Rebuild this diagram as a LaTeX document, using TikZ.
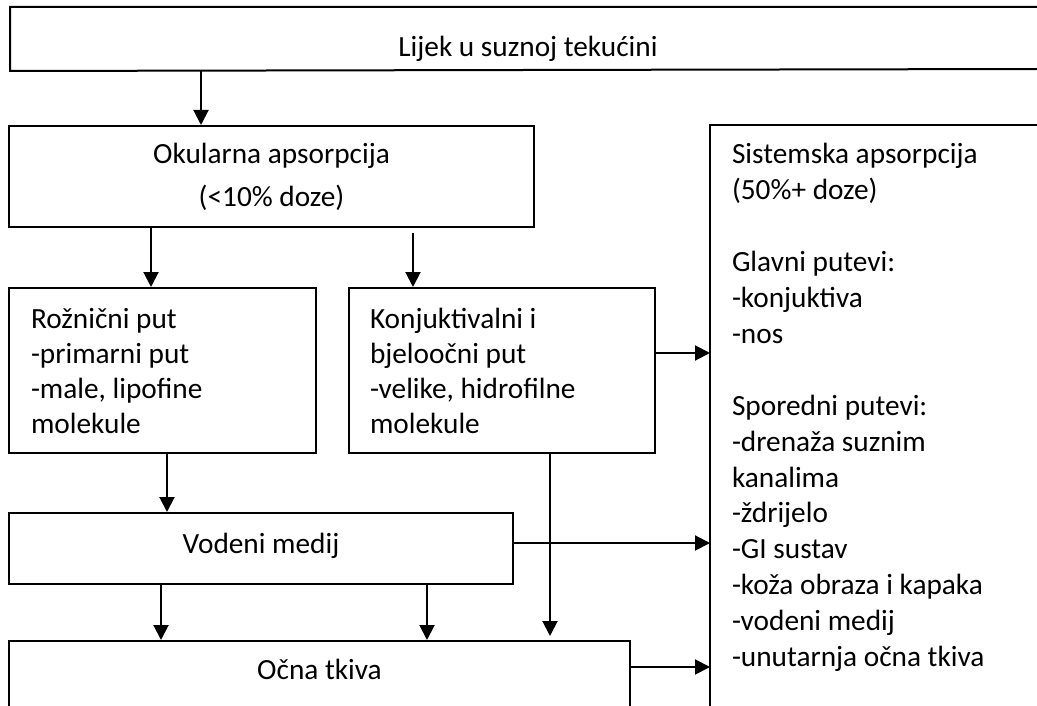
\documentclass[tikz,border=0pt]{standalone}
\usepackage{fontspec}
\setmainfont{Carlito}
\usetikzlibrary{arrows.meta}
\newcommand\mysize{\fontsize{29.3}{35.9}\selectfont}
\newcommand\mysizeL{\fontsize{29.3}{35.3}\selectfont}
\newcommand\mysizeO{\fontsize{29.3}{43}\selectfont}
\begin{document}
\begin{tikzpicture}[x=1pt,y=-1pt,
  box/.style={draw,line width=2pt,inner ysep=0pt,anchor=north west},
  openbox/.style={line width=2pt,inner ysep=0pt,anchor=north west},
  edge/.style={line width=2pt},
  sisedge/.style={line width=1.6pt},
  arr/.style={line width=2pt,-{Triangle[length=15pt,width=15pt]}}]
\useasboundingbox (0,0) rectangle (1037,706);
\clip (0,0) rectangle (1037,706);
% boxes
\node[openbox,inner xsep=0pt,text height=49pt,text depth=13pt] (top) at (10,7)
  {\parbox[t]{1034pt}{\centering\mysize Lijek u suznoj tekućini}};
\draw[edge] (1037,7) -- (top.north west) -- (top.south west) -- (1037,69);
\node[box,inner xsep=0pt,text height=38pt,text depth=63pt] (ok) at (8,125)
  {\parbox[t]{525pt}{\centering\mysizeO Okularna apsorpcija\\(<10\% doze)}};
\node[box,inner xsep=22pt,text height=40pt,text depth=125pt] (roz) at (8,287)
  {\parbox[t]{263pt}{\raggedright\mysizeL Rožnični put\\-primarni put\\-male, lipofine\\molekule}};
\node[box,inner xsep=21pt,text height=40pt,text depth=125pt] (konj) at (348,287)
  {\parbox[t]{264pt}{\raggedright\mysizeL Konjuktivalni i\\bjeloočni put\\-velike, hidrofilne\\molekule}};
\node[box,inner xsep=0pt,text height=40pt,text depth=31pt] (vod) at (8,512)
  {\parbox[t]{504pt}{\centering\mysize Vodeni medij}};
\node[box,inner xsep=0pt,text height=38pt,text depth=100pt] (ocna) at (8,640)
  {\parbox[t]{621pt}{\centering\mysize Očna tkiva}};
\node[openbox,inner xsep=21pt,text height=38pt,text depth=600pt] (sis) at (710,125)
  {\parbox[t]{280pt}{\raggedright\mysize Sistemska apsorpcija\\(50\%+ doze)\\\mbox{}\\Glavni putevi:\\-konjuktiva\\-nos\\\mbox{}\\Sporedni putevi:\\-drenaža suznim\\kanalima\\-ždrijelo\\-GI sustav\\-koža obraza i kapaka\\-vodeni medij\\-unutarnja očna tkiva}};
\draw[sisedge] (1037,125) -- (sis.north west) -- (710,706);
% reference coordinates for connector positions
\coordinate (c1) at (201,0);
\coordinate (c2) at (151,0);
\coordinate (c3) at (413,0);
\coordinate (c4) at (0,353);
\coordinate (c5) at (167,0);
\coordinate (c6) at (550,0);
\coordinate (c7) at (0,543);
\coordinate (c8) at (161,0);
\coordinate (c9) at (427,0);
\coordinate (c10) at (0,667);
% connectors
\draw[arr] (top.south -| c1) -- (ok.north -| c1);
\draw[arr] (ok.south -| c2) -- (roz.north -| c2);
\draw[arr] ([yshift=-5pt]ok.south -| c3) -- (konj.north -| c3);
\draw[arr] (konj.east |- c4) -- (sis.west |- c4);
\draw[arr] (roz.south -| c5) -- (vod.north -| c5);
\draw[arr] (konj.south -| c6) -- ([yshift=4pt]ocna.north -| c6);
\draw[arr] (vod.east |- c7) -- (sis.west |- c7);
\draw[arr] (vod.south -| c8) -- (ocna.north -| c8);
\draw[arr] (vod.south -| c9) -- (ocna.north -| c9);
\draw[arr] (ocna.east |- c10) -- (sis.west |- c10);
\end{tikzpicture}
\end{document}
